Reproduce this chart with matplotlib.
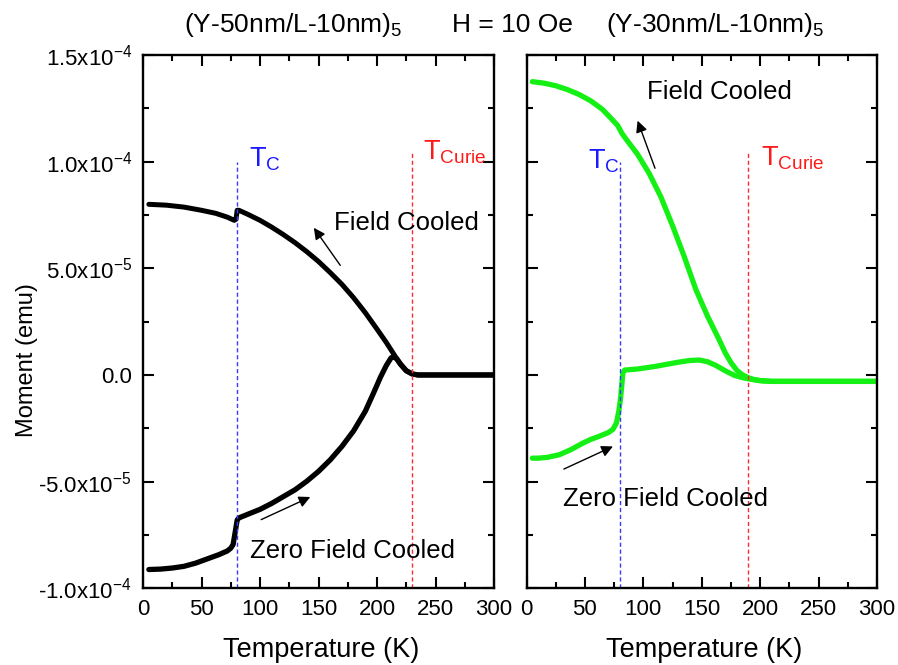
import numpy as np
import matplotlib
matplotlib.use("Agg")
import matplotlib.pyplot as plt
from matplotlib.ticker import MultipleLocator, FixedLocator, FixedFormatter

plt.rcParams['font.family'] = ['Liberation Sans', 'DejaVu Sans']
plt.rcParams['mathtext.fontset'] = 'custom'
plt.rcParams['mathtext.rm'] = 'Liberation Sans'
plt.rcParams['mathtext.it'] = 'Liberation Sans'

# ---- (Y-50nm/L-10nm)_5 : field cooled (temperature in K, moment in 1e-5 emu)
t_fc_50 = [5, 20, 35, 50, 62, 72, 78, 79.5, 80.5, 82, 90, 100, 110, 120, 130,
           140, 150, 160, 170, 180, 190, 200, 208, 215, 220, 225, 230, 235,
           250, 275, 300]
m_fc_50 = [8.00, 7.96, 7.87, 7.72, 7.58, 7.40, 7.25, 7.30, 7.72, 7.72, 7.52,
           7.25, 6.93, 6.58, 6.20, 5.78, 5.32, 4.80, 4.25, 3.62, 2.92, 2.15,
           1.52, 0.92, 0.50, 0.20, 0.05, 0.0, 0.0, 0.0, 0.0]

# ---- (Y-50nm/L-10nm)_5 : zero field cooled
t_zfc_50 = [5, 15, 25, 35, 45, 55, 65, 72, 75, 77, 79, 80.5, 82, 90, 100, 110,
            120, 130, 140, 150, 160, 170, 180, 190, 197, 203, 208, 212, 214,
            217, 220, 225, 230, 235, 250, 275, 300]
m_zfc_50 = [-9.12, -9.10, -9.05, -8.97, -8.82, -8.62, -8.42, -8.25, -8.12,
            -7.95, -7.30, -6.80, -6.70, -6.52, -6.30, -6.02, -5.70, -5.38,
            -4.98, -4.52, -3.98, -3.35, -2.62, -1.70, -0.85, -0.10, 0.45,
            0.80, 0.86, 0.75, 0.52, 0.20, 0.05, 0.0, 0.0, 0.0, 0.0]

# ---- (Y-30nm/L-10nm)_5 : field cooled
t_fc_30 = [5, 15, 25, 35, 45, 55, 65, 72, 78, 82, 86, 95, 105, 115, 125, 135,
           145, 155, 165, 170, 175, 180, 185, 190, 195, 200, 210, 225, 250,
           275, 300]
m_fc_30 = [13.75, 13.68, 13.56, 13.38, 13.15, 12.85, 12.45, 12.05, 11.70,
           11.30, 11.00, 10.35, 9.45, 8.35, 7.00, 5.55, 4.00, 2.75, 1.64,
           1.05, 0.58, 0.22, 0.00, -0.13, -0.22, -0.27, -0.30, -0.30, -0.30,
           -0.30, -0.30]

# ---- (Y-30nm/L-10nm)_5 : zero field cooled
t_zfc_30 = [5, 10, 18, 28, 38, 48, 55, 62, 70, 74, 77, 79, 80.5, 81.5, 82.5,
            84, 95, 110, 120, 130, 140, 148, 155, 162, 170, 178, 186, 192,
            200, 210, 225, 250, 275, 300]
m_zfc_30 = [-3.90, -3.90, -3.86, -3.74, -3.50, -3.20, -3.02, -2.88, -2.70,
            -2.55, -2.25, -1.70, -1.10, -0.50, 0.10, 0.23, 0.28, 0.40, 0.50,
            0.60, 0.68, 0.70, 0.62, 0.45, 0.20, -0.02, -0.14, -0.20, -0.26,
            -0.30, -0.30, -0.30, -0.30, -0.30]

# transition temperatures (K) and the height of their marker lines (1e-5 emu)
tc_50, tcurie_50 = 80, 230
tc_30, tcurie_30 = 80, 190
tc_top = [10.0, 10.0]
tcurie_top = [10.4, 10.5]

y_ticks = [-1.0e-4, -5.0e-5, 0.0, 5.0e-5, 1.0e-4, 1.5e-4]
y_tick_labels = [r'-1.0x10$^{\mathregular{-4}}$', r'-5.0x10$^{\mathregular{-5}}$',
                 '0.0', r'5.0x10$^{\mathregular{-5}}$',
                 r'1.0x10$^{\mathregular{-4}}$', r'1.5x10$^{\mathregular{-4}}$']
x_ticks = [0, 50, 100, 150, 200, 250, 300]

SCALE = 1e-5
W, H = 898, 665
fig = plt.figure(figsize=(W / 100, H / 100), dpi=100)
ax1 = fig.add_axes([143 / W, 1 - 588.3 / H, 351 / W, 533.3 / H])
ax2 = fig.add_axes([526.5 / W, 1 - 588.3 / H, 350.5 / W, 533.3 / H])

BLACK = '#000000'
GREEN = '#14f014'
BLUE = '#3a3aff'
RED = '#ff2a2a'

def style(ax, labels):
    ax.set_xlim(0, 300)
    ax.set_ylim(-1.0e-4, 1.5e-4)
    ax.xaxis.set_major_locator(FixedLocator(x_ticks))
    ax.xaxis.set_minor_locator(MultipleLocator(25))
    ax.yaxis.set_major_locator(FixedLocator(y_ticks))
    ax.yaxis.set_minor_locator(MultipleLocator(2.5e-5))
    if labels:
        ax.yaxis.set_major_formatter(FixedFormatter(y_tick_labels))
    else:
        ax.set_yticklabels([])
    ax.tick_params(which='both', direction='in', top=True, right=True,
                   width=1.5, labelsize=16, pad=8)
    ax.tick_params(which='major', length=8)
    ax.tick_params(which='minor', length=4.5)
    for s in ax.spines.values():
        s.set_linewidth(1.7)

style(ax1, True)
style(ax2, False)

m = lambda v: np.asarray(v) * SCALE

# curves
ax1.plot(t_fc_50, m(m_fc_50), color=BLACK, lw=3.6, solid_joinstyle='round',
         solid_capstyle='round')
ax1.plot(t_zfc_50, m(m_zfc_50), color=BLACK, lw=3.8, solid_joinstyle='round',
         solid_capstyle='round')
ax2.plot(t_fc_30, m(m_fc_30), color=GREEN, lw=3.8, solid_joinstyle='round',
         solid_capstyle='round')
ax2.plot(t_zfc_30, m(m_zfc_30), color=GREEN, lw=3.8, solid_joinstyle='round',
         solid_capstyle='round')

# transition marker lines
dash = (0, (3, 2))
ax1.vlines(tc_50, -1.0e-4, tc_top[0] * SCALE, color=BLUE, lw=1, linestyles=[dash])
ax1.vlines(tcurie_50, -1.0e-4, tcurie_top[0] * SCALE, color=RED, lw=1, linestyles=[dash])
ax2.vlines(tc_30, -1.0e-4, tc_top[1] * SCALE, color=BLUE, lw=1, linestyles=[dash])
ax2.vlines(tcurie_30, -1.0e-4, tcurie_top[1] * SCALE, color=RED, lw=1, linestyles=[dash])

TS = 19.5
ax1.text(90.3, 9.77 * SCALE, r'$\mathregular{T_C}$', color='#1a1aff', fontsize=TS,
         ha='left', va='baseline')
ax1.text(239.7, 10.1 * SCALE, r'$\mathregular{T_{Curie}}$', color='#ff1a1a', fontsize=TS,
         ha='left', va='baseline')
ax2.text(52.7, 9.66 * SCALE, r'$\mathregular{T_C}$', color='#1a1aff', fontsize=TS,
         ha='left', va='baseline')
ax2.text(200.3, 9.81 * SCALE, r'$\mathregular{T_{Curie}}$', color='#ff1a1a', fontsize=TS,
         ha='left', va='baseline')

LS = 18.5
ax1.text(162.9, 6.78 * SCALE, 'Field Cooled', fontsize=LS, ha='left', va='baseline')
ax1.text(91.7, -8.57 * SCALE, 'Zero Field Cooled', fontsize=LS, ha='left', va='baseline')
ax2.text(102.9, 12.95 * SCALE, 'Field Cooled', fontsize=LS, ha='left', va='baseline')
ax2.text(31.4, -6.15 * SCALE, 'Zero Field Cooled', fontsize=LS, ha='left', va='baseline')

arrow = dict(arrowstyle='-|>', color='k', lw=1.0, mutation_scale=17,
             shrinkA=0, shrinkB=0)
ax1.annotate('', xy=(146, 6.9 * SCALE), xytext=(168.6, 5.14 * SCALE), arrowprops=arrow)
ax1.annotate('', xy=(143, -5.72 * SCALE), xytext=(101, -6.78 * SCALE), arrowprops=arrow)
ax2.annotate('', xy=(95.1, 11.92 * SCALE), xytext=(110, 9.69 * SCALE), arrowprops=arrow)
ax2.annotate('', xy=(74, -3.35 * SCALE), xytext=(32, -4.41 * SCALE), arrowprops=arrow)

# titles
TT = 19
fig.text(184 / W, 1 - 32 / H, r'(Y-50nm/L-10nm)$_\mathregular{5}$', fontsize=TT,
         ha='left', va='baseline')
fig.text(451.7 / W, 1 - 32 / H, 'H = 10 Oe', fontsize=TT, ha='left', va='baseline')
fig.text(606 / W, 1 - 32 / H, r'(Y-30nm/L-10nm)$_\mathregular{5}$', fontsize=TT,
         ha='left', va='baseline')

# axis labels
fig.text(321 / W, 1 - 650 / H, 'Temperature (K)', fontsize=19.5, ha='center', va='center')
fig.text(704 / W, 1 - 650 / H, 'Temperature (K)', fontsize=19.5, ha='center', va='center')
fig.text(27 / W, 1 - 360 / H, 'Moment (emu)', fontsize=17, ha='center', va='center',
         rotation=90)

fig.savefig('out.png', dpi=100)
